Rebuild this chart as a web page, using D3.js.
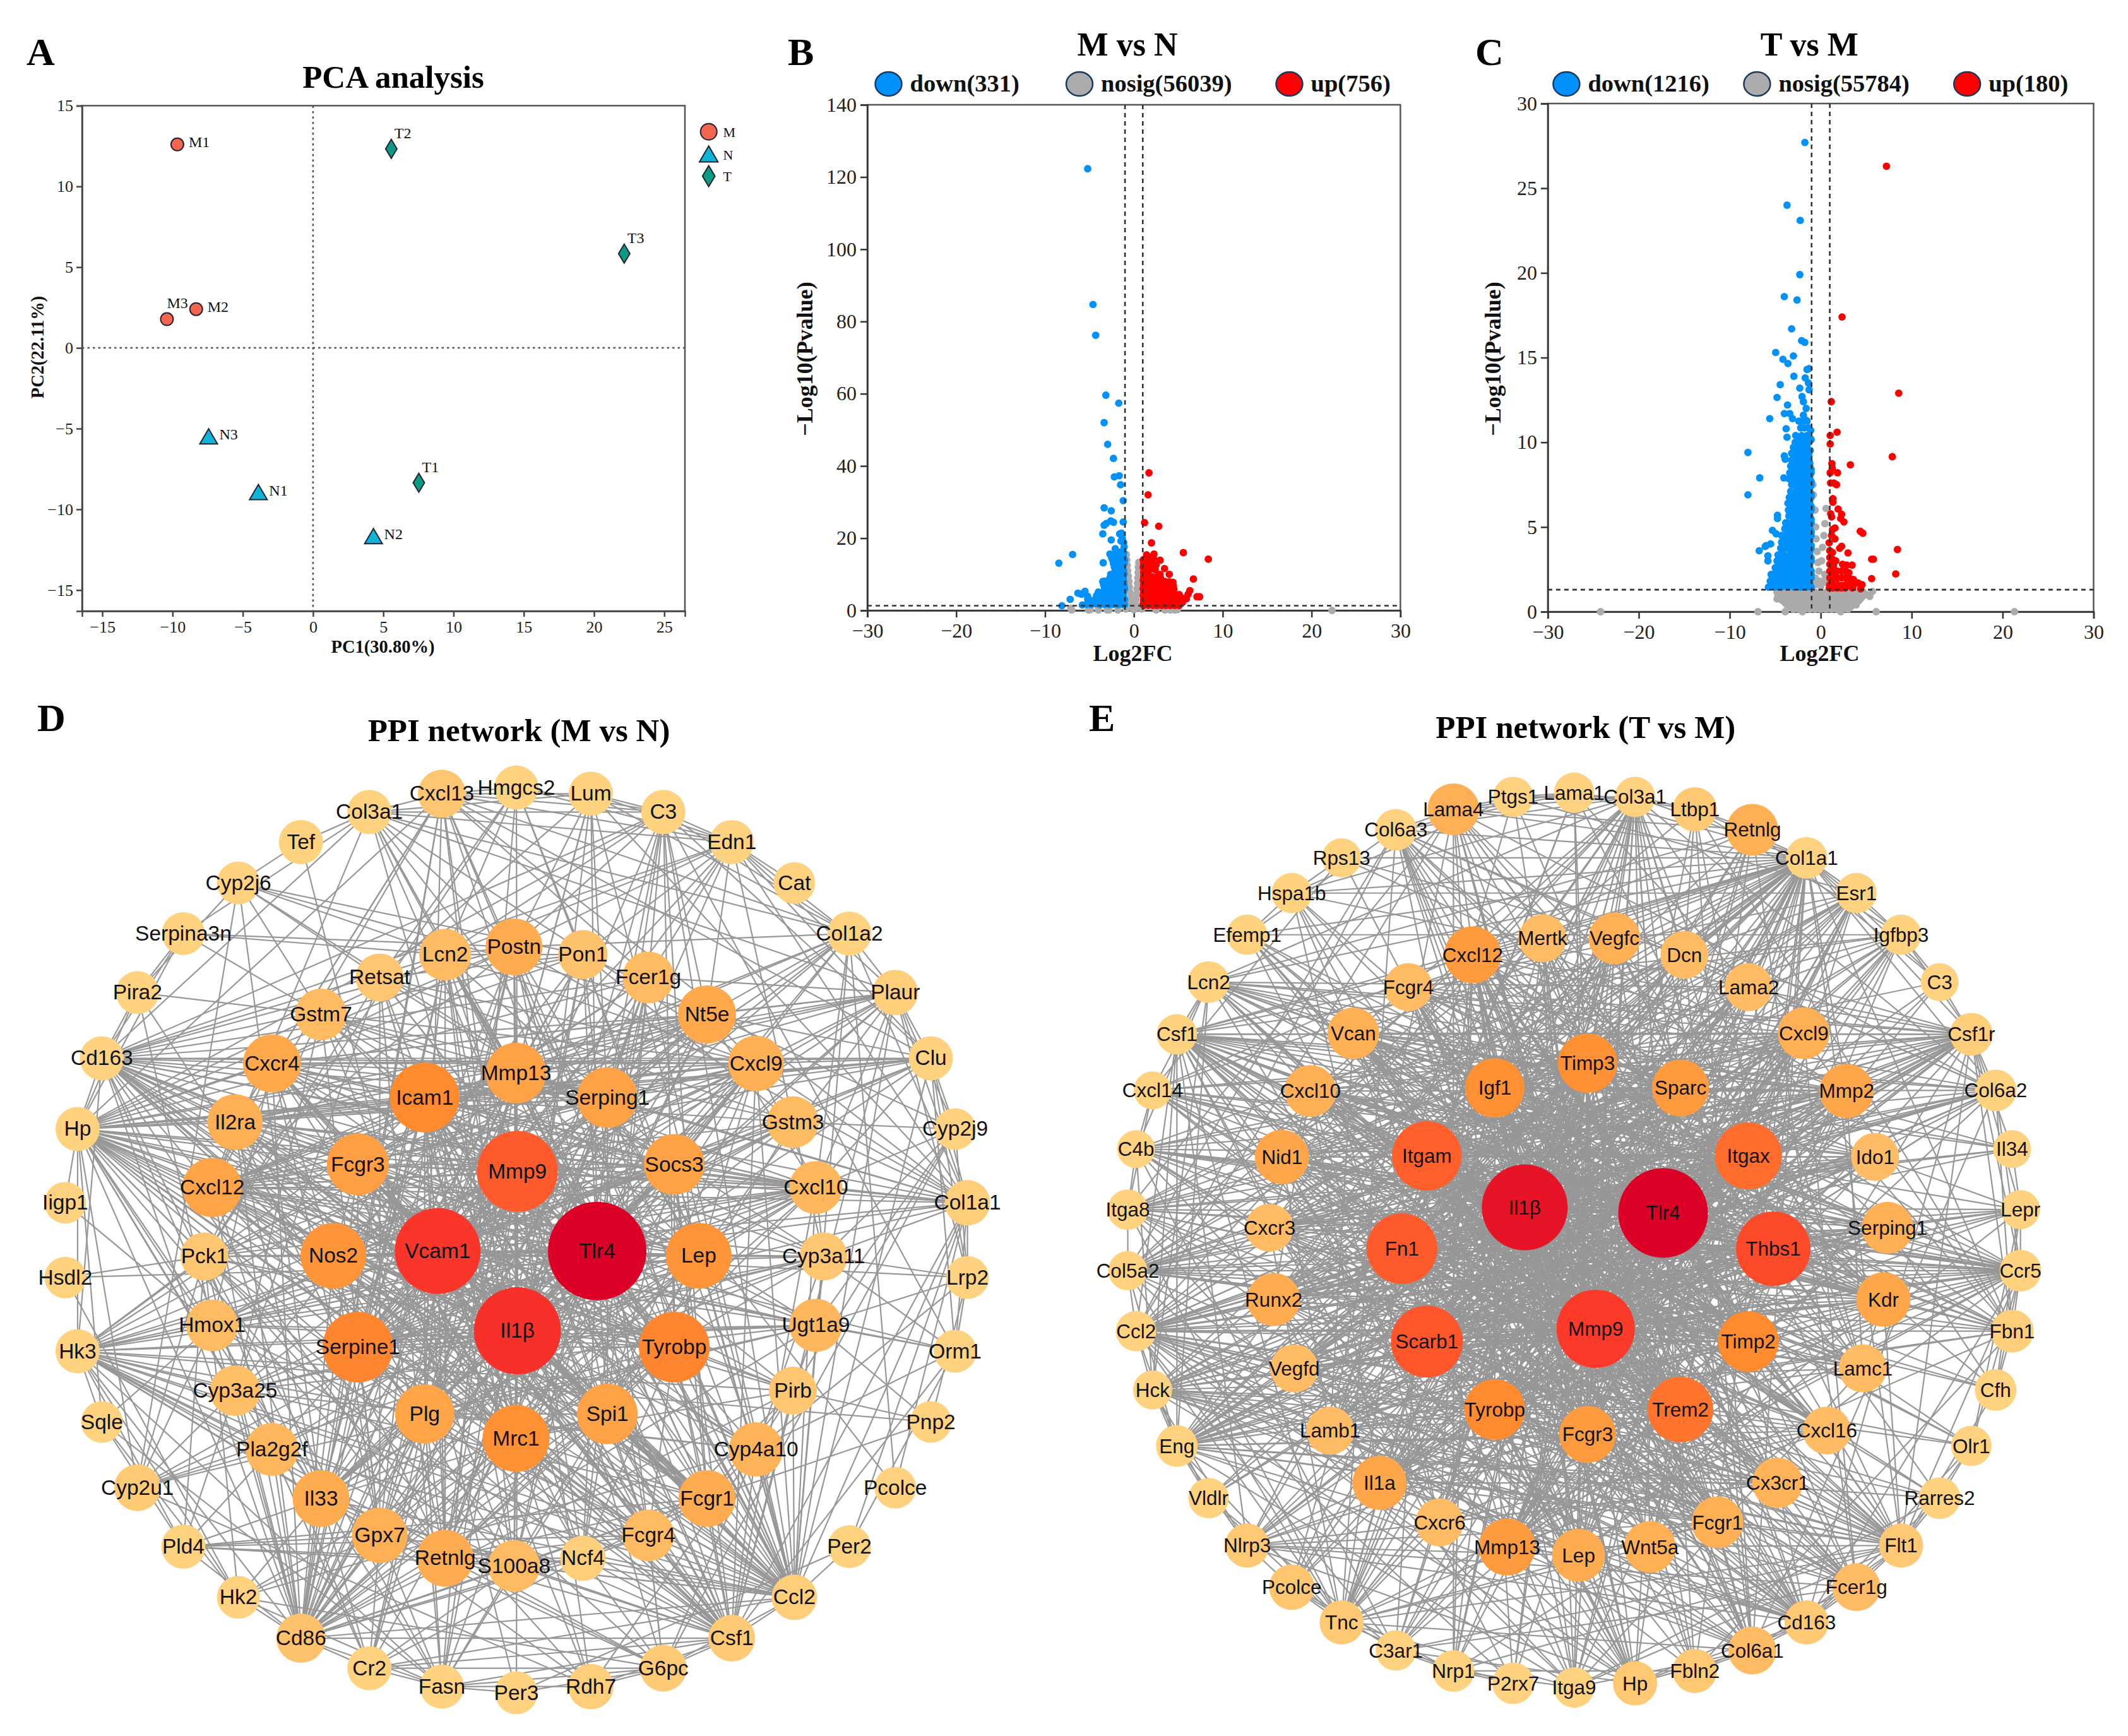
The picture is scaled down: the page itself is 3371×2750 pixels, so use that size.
<!DOCTYPE html>
<html><head><meta charset="utf-8">
<script src="https://cdn.jsdelivr.net/npm/d3@7"></script>
<style>html,body{margin:0;padding:0;background:#fff}svg{display:block}</style>
</head><body><svg id="fig"></svg>
<script>
// ---------- PCA data ----------
const pcaGroups = ["M","N","T"];
const pcaSamples = ["M1","M2","M3","N1","N2","N3","T1","T2","T3"];
const pcaPC1 = [-9.66,-8.32,-10.4,-3.89,4.3,-7.43,7.53,5.57,22.15];
const pcaPC2 = [12.6,2.4,1.78,-8.97,-11.7,-5.52,-8.35,12.33,5.84];
const pcaTicksX = [-15,-10,-5,0,5,10,15,20,25];
const pcaTicksY = [-15,-10,-5,0,5,10,15];

// ---------- Volcano M vs N ----------
const bLegend = ["down(331)","nosig(56039)","up(756)"];
const bTicksY = [0,20,40,60,80,100,120,140];
const fcTicks = [-30,-20,-10,0,10,20,30];
const bDown = [[-5.2,122.3],[-4.6,84.7],[-4.3,76.2],[-3.15,59.6],[-1.7,57.4],[-3.35,52],[-2.95,46],[-2.3,42.1],[-2.2,37],[-1.65,37.3],[-1.5,34.8],[-1.2,30.4],[-3.35,28.4],[-2.55,27.6],[-1.2,24.5],[-2.6,24.8],[-2.3,24.4],[-3.35,23.6],[-3.1,24.1],[-3.5,21.2],[-2.55,19.5],[-1.6,21.2],[-1.4,21.4],[-1.3,20],[-1.15,18.8],[-1.45,19.2],[-1.1,17.6],[-8.45,13.1],[-6.9,15.5],[-3.45,13.2],[-2.7,15.6],[-2.1,17.1],[-2.4,15.4],[-1.9,16],[-1.5,16.2],[-1.15,16],[-2.5,14.6],[-1.7,15],[-1.2,15],[-2.4,14],[-1.8,14],[-1.3,14],[-1.05,14],[-2.3,13],[-1.9,13],[-1.4,13],[-1.1,13],[-2.2,12],[-1.7,12],[-1.25,12],[-2.1,11],[-1.6,11],[-1.15,11],[-2.6,10],[-2.1,10],[-1.6,10],[-1.1,10],[-2.7,9],[-2.2,9],[-1.7,9],[-1.2,9],[-3.5,8],[-3.3,8.1],[-2.6,8],[-2.1,8],[-1.6,8],[-1.15,8],[-3.4,7.1],[-3,6.8],[-2.5,7],[-2,7],[-1.5,7],[-1.1,7],[-3.3,6],[-2.9,6],[-2.4,6],[-1.9,6],[-1.4,6],[-1.05,6],[-4,5.1],[-3.7,4.8],[-3.2,5],[-2.7,5],[-2.2,5],[-1.7,5],[-1.2,5],[-4.2,4.1],[-3.7,4],[-3.2,4],[-2.7,4],[-2.2,4],[-1.7,4],[-1.2,4],[-6.3,4.8],[-5.5,5.3],[-5.9,4.5],[-5.2,3.9],[-7.17,3.07],[-5.2,3.1],[-4.7,2.6],[-4.4,3],[-3.9,3],[-3.4,3],[-2.9,3],[-2.4,3],[-1.9,3],[-1.4,3],[-1.05,3],[-8.1,1.3],[-5.8,1.5],[-5.3,1.7],[-4.8,1.7],[-4.3,1.8],[-3.8,1.6],[-3.3,1.7],[-2.8,1.6],[-2.3,1.7],[-1.8,1.6],[-1.3,1.7],[-1.05,1.6]];
const bUp = [[1.7,38.1],[1.6,32],[1.2,24.3],[2.8,23.3],[1.98,18.7],[5.57,16],[8.38,14.2],[1.43,15.4],[2.26,15.6],[1.05,14],[1.3,13.8],[1.7,14.8],[2.2,14.4],[2.95,13.9],[1.1,13],[1.6,13],[2.1,13],[2.5,12.6],[3.45,11.6],[1.05,12],[1.5,11.7],[1.9,11.5],[2.4,11.3],[1.1,10.6],[1.6,10.5],[2.95,10],[3.98,10],[2.7,9.7],[1.1,9.4],[1.6,9.4],[2.1,9.3],[2.5,9.2],[3,9],[1.05,8.3],[1.5,8.2],[2,8.1],[2.5,8.2],[3,8],[3.5,8],[4,7.9],[4.4,7.8],[6.7,8.7],[1.1,7],[1.6,7],[2.1,7],[2.6,7.1],[3.1,7],[3.6,6.9],[4.1,6.9],[4.45,6.8],[1.05,6],[1.5,6],[2,6.1],[2.5,5.9],[3,6],[3.5,6],[4,5.9],[4.5,5.9],[6.3,5.5],[6.1,4.5],[1.1,5],[1.6,5],[2.1,5],[2.6,5],[3.1,5],[3.6,5],[4.1,5],[4.6,4.5],[5.1,4.4],[1.05,4],[1.5,4],[2,4],[2.5,4],[3,4],[3.5,4],[4,3.9],[4.5,3.9],[5,3.7],[5.5,3.4],[7.1,3.8],[7.4,3.8],[5.9,3.2],[1.1,3],[1.6,3],[2.1,3],[2.6,3],[3.1,3],[3.6,3],[4.1,3],[4.6,3],[5.1,3],[1.05,2],[1.5,2],[2,2],[2.5,2],[3,2],[3.5,2],[4,2],[4.5,2],[5,2],[5.45,2.2],[1.1,1.4],[1.6,1.4],[2.1,1.4],[2.6,1.4],[3.1,1.4],[3.6,1.4],[4.1,1.4],[4.6,1.4],[5.1,1.4]];
const bNosig = [[-.85,15.5],[-.8,14],[-.75,12.5],[-.7,11],[-.62,9.5],[-.55,8],[-.5,6.5],[-.45,5],[-.4,3.5],[-.35,2],[-.3,.8],[.55,13.3],[.5,12],[.47,10.5],[.44,9],[.4,7.5],[.35,6],[.3,4.5],[.25,3],[.2,1.5],[.15,.6],[0,.2],[-.6,1],[.5,1],[-.9,.4],[.9,.4],[-7.1,.6],[-7,.1],[-5.1,.1],[-4.9,.2],[-4,.1],[-3,.1],[-2.8,.1],[-1.8,.1],[2.5,.1],[3.5,.1],[4.1,.1],[4.6,.1],[4.9,.2],[22.3,0]];

// ---------- Volcano T vs M ----------
const cLegend = ["down(1216)","nosig(55784)","up(180)"];
const cTicksY = [0,5,10,15,20,25,30];
const cDownSparse = [[-1.74,27.7],[-3.7,24],[-2.25,23.1],[-2.3,19.9],[-4,18.6],[-2.6,18.4],[-3.2,16.7],[-2.1,16],[-1.75,15.9],[-4.95,15.3],[-4.15,14.9],[-3.6,14.65],[-3,15.1],[-2.95,13.9],[-1.5,14.3],[-1.28,14.35],[-1.7,13.8],[-4.45,13.4],[-2.3,13.2],[-1.35,13.5],[-1.28,13.1],[-4.8,12.65],[-2.05,12.7],[-1.9,12.4],[-3.65,12.2],[-4,11.7],[-1.6,12],[-5.6,11.4],[-3.4,11.7],[-3.1,11.4],[-1.9,11.6],[-1.6,11.3],[-3.8,10.8],[-3.7,10.3],[-8,9.4],[-6.7,7.9],[-8,6.9],[-6.76,3.6],[-6,3.9],[-5.5,4],[-5.8,3.3],[-5.8,3],[-6.1,3.85],[-5.3,4.8],[-4.9,4.6],[-4.75,5.7],[-4.75,5.5],[-4.05,7.9],[-4,9.2],[-3.9,9],[-1.1,10.7],[-1.05,10.15]];
const cDownRows = [
[1.45,[-5.75,-5.05,-4.35,-3.65,-2.95,-2.25,-1.55,-1.05]],
[1.62,[-5.4,-4.7,-4,-3.3,-2.6,-1.9,-1.2]],
[1.8,[-5.55,-4.75,-4.05,-3.3,-2.6,-1.9,-1.2]],
[2,[-5.2,-4.4,-3.65,-2.95,-2.25,-1.55,-1.05]],
[2.2,[-5.45,-5.05,-4.35,-3.65,-2.95,-2.25,-1.55,-1.05]],
[2.4,[-4.9,-4.35,-3.65,-2.95,-2.25,-1.55,-1.05]],
[2.6,[-5,-4.7,-4,-3.3,-2.6,-1.9,-1.2]],
[2.8,[-4.6,-4,-3.3,-2.6,-1.9,-1.2]],
[3,[-4.8,-4.35,-3.65,-2.95,-2.25,-1.55,-1.05]],
[3.18,[-4.4,-3.65,-2.95,-2.25,-1.55,-1.05]],
[3.35,[-4.7,-4,-3.3,-2.6,-1.9,-1.2]],
[3.55,[-4.2,-3.3,-2.6,-1.9,-1.2]],
[3.75,[-4.4,-3.65,-2.95,-2.25,-1.55,-1.05]],
[3.92,[-3.65,-2.95,-2.25,-1.55,-1.05]],
[4.1,[-4.3,-4,-3.3,-2.6,-1.9,-1.2]],
[4.3,[-4,-3.3,-2.6,-1.9,-1.2]],
[4.5,[-4.3,-3.65,-2.95,-2.25,-1.55,-1.05]],
[4.7,[-3.65,-2.95,-2.25,-1.55,-1.05]],
[4.9,[-3.95,-3.3,-2.6,-1.9,-1.2]],
[5.08,[-3.3,-2.6,-1.9,-1.2]],
[5.25,[-3.85,-3.65,-2.95,-2.25,-1.55,-1.05]],
[5.45,[-2.95,-2.25,-1.55,-1.05]],
[5.65,[-3.5,-3.3,-2.6,-1.9,-1.2]],
[5.82,[-3.3,-2.6,-1.9,-1.2]],
[6,[-3.55,-2.95,-2.25,-1.55,-1.05]],
[6.2,[-2.95,-2.25,-1.55,-1.05]],
[6.4,[-3.6,-3.3,-2.6,-1.9,-1.2]],
[6.58,[-3.3,-2.6,-1.9,-1.2]],
[6.75,[-3.45,-2.95,-2.25,-1.55,-1.05]],
[6.92,[-2.95,-2.25,-1.55,-1.05]],
[7.1,[-3.3,-2.6,-1.9,-1.2]],
[7.3,[-2.6,-1.9,-1.2]],
[7.5,[-3.2,-2.95,-2.25,-1.55,-1.05]],
[7.68,[-2.95,-2.25,-1.55,-1.05]],
[7.85,[-3.5,-3.3,-2.6,-1.9,-1.2]],
[8.02,[-2.6,-1.9,-1.2]],
[8.2,[-3.4,-2.95,-2.25,-1.55,-1.05]],
[8.4,[-2.95,-2.25,-1.55,-1.05]],
[8.6,[-3.3,-2.6,-1.9,-1.2]],
[8.78,[-2.6,-1.9,-1.2]],
[8.95,[-3.2,-2.95,-2.25,-1.6]],
[9.15,[-2.6,-1.9,-1.3]],
[9.35,[-3.2,-2.75,-1.95,-1.3]],
[9.52,[-2.4,-1.8,-1.15]],
[9.7,[-3,-2.5,-1.6]],
[9.85,[-2.2,-1.5]],
[10,[-2.8,-2.2,-1.85,-1.3]],
[10.2,[-2.4,-1.6,-1.1]],
[10.4,[-2.75,-2.1,-1.5]],
[10.85,[-2.2,-1.8,-1.3]],
[11.25,[-2.4,-2,-1.5]]
];
const cUp = [[7.23,26.3],[2.35,17.4],[8.58,12.9],[8.44,3.67],[8.25,2.23],[1.16,12.4],[1.8,10.6],[1.04,10.4],[1.04,9.9],[7.87,9.15],[3.26,8.67],[1.23,8.74],[1.27,8.47],[1.85,8.2],[1.04,8.2],[1.09,7.6],[1.74,7.5],[1.45,7.6],[1.34,6.67],[1.34,6.46],[1.92,6.06],[2.3,5.75],[1.1,5.78],[1.2,5.6],[2.55,5.3],[2.2,5.5],[4.35,4.75],[4.63,4.63],[1.57,4.94],[1.3,4.85],[1.2,4.5],[1.57,4.3],[.93,4.07],[2.3,3.86],[2.08,3.74],[3,3.47],[5.6,3.1],[5.8,3.1],[5.6,1.95],[1,3.6],[1.3,3.5],[1,3.2],[1.3,3.1],[1.65,3],[1,2.8],[1.4,2.7],[2.4,2.8],[2.85,2.75],[3.45,2.75],[1,2.4],[1.4,2.3],[1.8,2.4],[2.3,2.4],[2.75,2.4],[3.1,2.3],[1,2],[1.4,1.95],[1.85,2],[2.3,2],[2.75,2],[3.2,1.95],[3.6,1.9],[1,1.6],[1.4,1.55],[1.85,1.6],[2.3,1.55],[2.75,1.6],[3.2,1.55],[3.65,1.6],[4.1,1.7],[4.55,1.6],[.95,1.4],[1.35,1.4],[1.8,1.4],[2.25,1.4],[2.7,1.4],[3.5,1.4],[4.4,1.35]];
const cNosigRows = [
[.15,[-3,-2.4,-1.8,-1.2,-.6,0,.6,1.2,1.8,2.4,3]],
[.28,[-3.3,-2.7,-2.1,-1.5,-.9,-.3,.3,.9,1.5,2.1,2.7,3.3]],
[.4,[-3.7,-3.1,-2.5,-1.9,-1.3,-.7,-.1,.5,1.1,1.7,2.3,2.9,3.5,3.9]],
[.52,[-3.9,-3.3,-2.7,-2.1,-1.5,-.9,-.3,.3,.9,1.5,2.1,2.7,3.3,3.9]],
[.65,[-4.2,-3.6,-3,-2.4,-1.8,-1.2,-.6,0,.6,1.2,1.8,2.4,3,3.6,4.2]],
[.78,[-4.4,-3.8,-3.2,-2.6,-2,-1.4,-.8,-.2,.4,1,1.6,2.2,2.8,3.4,4,4.4]],
[.9,[-4.7,-4.1,-3.5,-2.9,-2.3,-1.7,-1.1,-.5,.1,.7,1.3,1.9,2.5,3.1,3.7,4.3,4.6]],
[1.02,[-4.7,-4.4,-3.8,-3.2,-2.6,-2,-1.4,-.8,-.2,.4,1,1.6,2.2,2.8,3.4,4,4.6]],
[1.15,[-4.8,-4.2,-3.6,-3,-2.4,-1.8,-1.2,-.6,0,.6,1.2,1.8,2.4,3,3.6,4.2,4.7]]
];
const cNosigExtra = [[5.1,1],[5.7,1.2],[5.4,.9],[-4.8,.75],[-24.2,0],[-6.9,0],[-3.9,0],[-2,0],[2.2,0],[6.1,0],[21.3,0],[-.85,7.5],[-.8,6.9],[-.62,6],[-.55,5],[-.5,4.3],[-.4,3.55],[-.3,2.9],[-.2,2.4],[-.1,1.8],[.58,6.1],[.46,5.2],[.35,4.5],[.2,3.8],[.1,3],[.45,2.2],[.3,1.8],[.7,1.7],[-.6,2],[-.6,1.6],[0,1.5]];

// ---------- Network D ----------
const dCore = ["Mmp9","Tlr4","Il1β","Vcam1"];
const dCoreDeg = [73,101,83,81];
const dInner = ["Mmp13","Serping1","Socs3","Lep","Tyrobp","Spi1","Mrc1","Plg","Serpine1","Nos2","Fcgr3","Icam1"];
const dInnerDeg = [41,41,41,49,57,41,51,39,57,49,43,55];
const dMiddle = ["Postn","Pon1","Fcer1g","Nt5e","Cxcl9","Gstm3","Cxcl10","Cyp3a11","Ugt1a9","Pirb","Cyp4a10","Fcgr1","Fcgr4","Ncf4","S100a8","Retnlg","Gpx7","Il33","Pla2g2f","Cyp3a25","Hmox1","Pck1","Cxcl12","Il2ra","Cxcr4","Gstm7","Retsat","Lcn2"];
const dMiddleDeg = [35,23,27,37,33,27,29,21,29,21,31,35,27,17,27,35,33,35,29,25,27,21,39,33,37,27,21,27];
const dOuter = ["Hmgcs2","Lum","C3","Edn1","Cat","Col1a2","Plaur","Clu","Cyp2j9","Col1a1","Lrp2","Orm1","Pnp2","Pcolce","Per2","Ccl2","Csf1","G6pc","Rdh7","Per3","Fasn","Cr2","Cd86","Hk2","Pld4","Cyp2u1","Sqle","Hk3","Hsdl2","Iigp1","Hp","Cd163","Pira2","Serpina3n","Cyp2j6","Tef","Col3a1","Cxcl13"];
const dOuterDeg = [15,15,15,15,11,15,17,15,11,17,13,13,11,11,13,17,19,19,17,13,15,15,23,13,15,19,11,15,11,11,15,15,13,13,13,15,15,21];
const dEdges = [
["Tlr4","Mmp9 Il1β Vcam1 Mmp13 Serping1 Socs3 Lep Tyrobp Spi1 Mrc1 Plg Serpine1 Nos2 Fcgr3 Icam1 Postn Lcn2 Pon1 Nt5e Cxcl9 Cxcl10 Fcgr1 Fcgr4 Ncf4 S100a8 Retnlg Gpx7 Il33 Hmox1 Cxcl12 Il2ra Cxcr4 Cxcl13 Lum C3 Col1a2 Plaur Col1a1 Ccl2 Csf1 Cd86 Cd163 Hp Hk3 Pck1 Pla2g2f Fcer1g Retsat Gstm7 Cyp3a25 Cr2 Fasn"],
["Il1β","Mmp9 Vcam1 Mmp13 Serping1 Socs3 Lep Tyrobp Spi1 Mrc1 Plg Serpine1 Nos2 Fcgr3 Icam1 Postn Pon1 Fcer1g Nt5e Cxcl9 Gstm3 Cxcl10 Fcgr1 Fcgr4 Retnlg Gpx7 Il33 Cyp3a25 Hmox1 Cxcl12 Il2ra Cxcr4 Gstm7 Lcn2 Cxcl13 Hmgcs2 C3 Edn1 Col1a2 Plaur Clu Ccl2 Csf1 Cd163 Hp Cd86 Col3a1 Pla2g2f Pck1 Retsat Hk3 Cyp3a11 Ugt1a9"],
["Mmp9","Vcam1 Mmp13 Serping1 Socs3 Lep Tyrobp Spi1 Mrc1 Plg Serpine1 Nos2 Fcgr3 Icam1 Postn Lcn2 Nt5e Cxcl9 Cxcl10 Cyp4a10 Fcgr1 Retnlg Gpx7 S100a8 Il33 Hmox1 Cxcl12 Il2ra Cxcr4 Fasn Cr2 Cd86 Csf1 Ccl2 Hk3 Hp Cd163 Col1a1 Per3 Rdh7 G6pc Ncf4 Fcgr4 Pla2g2f Cyp3a25 Pirb Ugt1a9"],
["Vcam1","Mmp13 Serping1 Socs3 Lep Tyrobp Spi1 Mrc1 Plg Serpine1 Nos2 Fcgr3 Icam1 Cxcl9 Cxcl10 Cyp3a11 Ugt1a9 Cyp4a10 Fcgr1 Fcgr4 Pirb Postn Nt5e Fcer1g Il33 Cxcl12 Cxcr4 Il2ra Ccl2 Csf1 Plaur Clu Col1a1 Col1a2 Hk3 Cd86 Hp Lrp2 Gstm3 Orm1 Pon1 Ncf4 Retnlg"],
["Tyrobp","Serpine1 Icam1 Fcgr3 Nos2 Plg Mrc1 Spi1 Socs3 Serping1 Fcgr1 Fcgr4 Ncf4 Retnlg Cxcr4 Cxcl9 Il33 Cd86 Ccl2 Csf1 Cxcl12 Il2ra Lcn2 Hp Cd163 Pck1 C3 Hmox1 Gstm7 Retsat Cxcl13"],
["Serpine1","Icam1 Fcgr3 Nos2 Plg Mrc1 Spi1 Lep Socs3 Serping1 Mmp13 Postn Cxcl9 Cxcl10 Nt5e Cyp3a11 Ccl2 Csf1 Col1a1 Col1a2 Plaur Hp Edn1 Il33 Gpx7 Lcn2 Pon1 Fcer1g Gstm3 Ugt1a9 Fcgr4"],
["Icam1","Fcgr3 Nos2 Plg Mrc1 Spi1 Lep Socs3 Serping1 Mmp13 Cxcl9 Cxcl10 Cxcl12 Cxcr4 Il2ra Ccl2 Csf1 Cd163 Hp Hk3 Clu Plaur Col1a1 Fcgr1 Retnlg Cd86 Il33 Nt5e Fcgr4 Ncf4 S100a8 Gstm3"],
["Mrc1","Lep Nos2 Fcgr3 Spi1 Socs3 Mmp13 Postn Fcgr1 Fcgr4 Ccl2 Csf1 Cd163 Cxcl12 Cxcr4 Hp Lcn2 Cd86 Cxcl9 Gpx7 S100a8 Pirb Retsat Cxcl13 Lum"],
["Lep","Nos2 Fcgr3 Plg Spi1 Socs3 Mmp13 Serping1 Cxcl12 Cxcl10 Ccl2 Hk3 Pck1 Fasn Hmgcs2 Cd86 Il33 Hp Plaur Postn Hmox1 Il2ra Cxcr4 Gpx7"],
["Nos2","Fcgr3 Plg Socs3 Mmp13 Serping1 Cxcl9 Cxcl10 Cxcr4 Hmox1 Ccl2 Csf1 Il2ra Cd86 Hp Cd163 Gpx7 Ugt1a9 Cyp3a11 Nt5e Fcgr1 Gstm3 Pirb"],
["Fcgr3","Mmp13 Socs3 Serping1 Spi1 Fcgr1 Fcgr4 Ccl2 Csf1 Cd86 Cd163 Hp Cxcl12 Il2ra Cxcl10 Cxcl9 Retnlg Cyp4a10 Pirb Nt5e Fcer1g S100a8 Ncf4"],
["Mmp13","Postn Lcn2 Serping1 Socs3 Plg Col1a1 Col1a2 Col3a1 Cxcl12 Cxcl9 Il33 Lum Cxcr4 Edn1 Pon1 Ccl2 Cr2 Gpx7 Fcgr1 Retnlg"],
["Serping1","Socs3 Plg Spi1 C3 Fcer1g Col1a1 Col1a2 Lcn2 Cxcl9 Cxcl12 Lum Hp Clu Cd163 Cxcr4 Il2ra Cd86 Gstm7 Retnlg Ccl2"],
["Socs3","Plg Spi1 Cxcl9 Cxcl10 Cxcl12 Il2ra Il33 Ccl2 Fcgr1 Lep Hmox1 Clu Hk3 Csf1 Cxcr4 Cd163 Pck1 Retsat"],
["Spi1","Plg Fcgr1 Fcgr4 Ccl2 Csf1 Cd86 Ncf4 Cxcl9 Cxcr4 Cd163 Il33 Postn Fcer1g Hp Cxcl12 Ccl2 Csf1 Retnlg Il2ra"],
["Plg","Fcgr4 Il33 Retnlg Gpx7 Cr2 Cd86 Cxcl12 Cxcl13 Cyp4a10 Ugt1a9 Hk3 Pck1 Cyp3a11 Csf1 Lum Fasn"],
["Cxcl12","Cxcl9 Cxcl10 Cxcr4 Il2ra Icam1 Cxcl13 Ccl2 Csf1 Cd86 Nt5e Postn Col1a1 Clu Plaur Il33 Hp Cd163 Col3a1 Fcgr1 Cyp4a10 Ugt1a9 Cyp3a11 Gstm3 Col1a2"],
["Cxcl10","Cxcl9 Cxcr4 Il2ra Ccl2 Csf1 Cd86 Hk3 Retnlg Il33 Hmox1 Pck1 Nt5e Cyp3a11 Cyp2j9 Col1a1 Col1a2 Hp Cd163 Cyp2u1 Clu Plaur"],
["Cxcl9","Cxcr4 Il2ra Ccl2 Csf1 Cd86 Cd163 Nt5e Retsat Gstm7 Il33 Hp Clu Plaur Lcn2 Hmox1 Pck1"],
["Cxcr4","Nt5e Il2ra Ccl2 Postn Csf1 Cd163 Hp Cxcl13 Hmox1 Gpx7 Cd86 Clu Plaur Cyp3a11"],
["Nt5e","Plaur Clu Col1a2 Edn1 Cd163 Hk3 Il2ra Retnlg Pck1 Cyp2j6 Hp Il33 C3"],
["Il2ra","Hp Cd163 Ccl2 Csf1 Cd86 Retnlg Il33 Fcgr1 Clu Col1a1 Plaur Cxcl13"],
["Il33","Cd86 Cr2 Ccl2 Csf1 Retnlg S100a8 Hp Hk3 Gpx7 Pld4 Hmox1 Cyp2j6 Cd163 Fasn Hk2 Cxcl13"],
["Fcgr1","Fcgr4 Ccl2 Csf1 Cd86 Cyp4a10 Cd163 Hp Ncf4 Retnlg S100a8 Pnp2 C3 Pirb Pld4 Hk3"],
["Fcgr4","Ccl2 Csf1 Cd86 Cd163 Ncf4 Retnlg G6pc Hp Pirb Hk3 Pld4"],
["Postn","Lum Col1a1 Col1a2 Col3a1 Edn1 Lcn2 Hp Gpx7 Cd163 Serpina3n C3 Ccl2 Cd86"],
["Lcn2","Hp Cd163 Retnlg S100a8 Ccl2 C3 Pon1 Serpina3n Hmgcs2 Gpx7 Cyp2j6 Edn1 Cd86"],
["Pon1","Hmgcs2 Hp Cyp2j9 Cyp4a10 Fasn G6pc Cyp2j6 Retsat Cd163 Gstm3 Edn1 Cyp3a25"],
["Fcer1g","Cd163 C3 Edn1 Ccl2 Cd86 Retnlg Hk3 Cxcl13 S100a8 Ncf4 Hp Plaur"],
["Gstm3","Gstm7 Hmox1 Cyp3a25 Fasn Cyp2u1 Cyp2j9 Retsat Clu Edn1 Cyp3a11 Col1a1"],
["Gstm7","Gpx7 Cyp3a11 Cyp2j6 Cyp3a25 Pira2 Serpina3n Pck1 Ugt1a9 Rdh7 Cxcl10"],
["Retsat","Hmgcs2 Cyp2j6 Rdh7 Fasn Gpx7 Pck1 Cyp3a25 Lum"],
["Retnlg","S100a8 Ccl2 Cd86 Ncf4 Csf1 Cd163 Hp Pld4 G6pc Hk3"],
["S100a8","Ccl2 Csf1 Cd86 Ncf4 Cr2 Hp Hk3 Pira2 Pld4"],
["Gpx7","Fasn Cd86 G6pc Cr2 Rdh7 Hk2 Pld4 Hk3 Cyp3a25 Ccl2"],
["Ncf4","Cd86 Ccl2 Csf1 Hp G6pc Cr2"],
["Hmox1","Hk3 Hp Ccl2 Sqle Cyp2u1 Pira2 Iigp1 Cd86 Csf1"],
["Pck1","G6pc Hk2 Hk3 Cyp2u1 Hp Fasn Hsdl2 Rdh7 Pld4 Hmgcs2 Cd86 Cr2"],
["Pla2g2f","Cyp2u1 Pld4 Hk3 Ccl2 Hp Cd163 Cr2 Cd86"],
["Cyp3a25","Cyp2u1 Pld4 Ugt1a9 Cyp3a11 Cyp4a10 Hk3 Hp Cd86"],
["Ugt1a9","Cyp3a11 Cyp2j9 Orm1 Pirb Cyp2u1 Pnp2 Lrp2 Hk3 Cd86 Cd163"],
["Cyp3a11","Cyp2j9 Orm1 Lrp2 Cyp4a10 Cyp2u1 Cyp2j6 Hk2 Hsdl2 Col1a1 Ccl2"],
["Cyp4a10","Hk2 Cyp2j9 G6pc Orm1 Lrp2 Rdh7 Ccl2 Csf1 Cd163"],
["Pirb","Ccl2 Csf1 Hk3 Cd86 Pnp2 Hp"],
["Ccl2","Csf1 Per2 G6pc Cd86 Hp Cd163 Hk3 Col1a1 Col1a2 Plaur Clu Cr2 Lum C3 Col3a1 Cxcl13"],
["Csf1","Cd86 Hk3 Hp Cd163 G6pc Rdh7 Col1a1 Cr2 Fasn Plaur Orm1 Col3a1"],
["Cd86","Cd163 Cr2 Hp Hk2 Pld4 Hk3 Fasn C3 Cxcl13"],
["Cd163","Hp Hk3 Serpina3n Pira2 Col3a1 C3 Clu Edn1"],
["Hp","Hk3 Pira2 Serpina3n Orm1 Sqle Cyp2u1 Clu Plaur C3"],
["Hk3","Pld4 Sqle Hk2 G6pc Fasn Pnp2"],
["Col1a1","Col1a2 Col3a1 Lum Cxcl13 Edn1 Plaur Clu Lrp2 Orm1 Pcolce Per2"],
["Col1a2","Col3a1 Lum Edn1 C3 Plaur Pcolce Cxcl13"],
["Col3a1","Cxcl13 Lum Edn1 C3 Serpina3n Tef Pcolce"],
["C3","Edn1 Lum Cxcl13 Hmgcs2 Clu Orm1"],
["Edn1","Hmgcs2 Cat Plaur Clu Lum Cxcl13"],
["Plaur","Clu Col3a1 Cyp2j9 Lrp2"],
["Clu","Lrp2 Cyp2j9 Orm1 Cxcl13"],
["Cxcl13","Hmgcs2 Lum Hp"],
["Fasn","G6pc Hk2 Cr2 Rdh7 Per3 Sqle Hmgcs2"],
["G6pc","Rdh7 Hk2 Per3 Cr2 Cyp2j9"],
["Lrp2","Orm1 Pnp2 Cyp2j9"],
["Sqle","Hk2 Pld4"],
["Cyp2u1","Cyp2j6 Rdh7"],
["Per2","Per3 Orm1"],
["Iigp1","Hp"],
["Hsdl2","Hk2"],
["Tef","Per3 Cyp2j6"],
["Pira2","Serpina3n Cyp2j6"]
];

// ---------- Network E ----------
const eCore = ["Il1β","Tlr4","Mmp9"];
const eCoreDeg = [81,87,69];
const eCoreAngles = [301.8,62.8,177.6];
const eInner = ["Timp3","Sparc","Itgax","Thbs1","Timp2","Trem2","Fcgr3","Tyrobp","Scarb1","Fn1","Itgam","Igf1"];
const eInnerDeg = [39,35,51,63,41,49,35,41,59,57,55,39];
const eMiddle = ["Mertk","Vegfc","Dcn","Lama2","Cxcl9","Mmp2","Ido1","Serping1","Kdr","Lamc1","Cxcl16","Cx3cr1","Fcgr1","Wnt5a","Lep","Mmp13","Cxcr6","Il1a","Lamb1","Vegfd","Runx2","Cxcr3","Nid1","Cxcl10","Vcan","Fcgr4","Cxcl12"];
const eMiddleDeg = [21,27,21,21,27,31,21,27,31,21,21,25,27,27,29,35,21,31,21,21,29,21,31,27,27,21,35];
const eOuter = ["Lama1","Col3a1","Ltbp1","Retnlg","Col1a1","Esr1","Igfbp3","C3","Csf1r","Col6a2","Il34","Lepr","Ccr5","Fbn1","Cfh","Olr1","Rarres2","Flt1","Fcer1g","Cd163","Col6a1","Fbln2","Hp","Itga9","P2rx7","Nrp1","C3ar1","Tnc","Pcolce","Nlrp3","Vldlr","Eng","Hck","Ccl2","Col5a2","Itga8","C4b","Cxcl14","Csf1","Lcn2","Efemp1","Hspa1b","Rps13","Col6a3","Lama4","Ptgs1"];
const eOuterDeg = [9,9,15,27,11,9,9,5,13,11,5,7,11,13,11,9,11,15,21,15,21,15,15,9,11,11,9,15,17,15,9,11,7,9,7,9,5,5,9,11,9,9,7,11,27,9];
const eEdges = [
["Tlr4","Il1β Mmp9 Fn1 Itgam Itgax Thbs1 Scarb1 Timp2 Trem2 Fcgr3 Tyrobp Igf1 Timp3 Sparc Mertk Vegfc Dcn Cxcl9 Mmp2 Ido1 Kdr Cxcl16 Cx3cr1 Fcgr1 Lep Mmp13 Cxcr6 Il1a Runx2 Cxcr3 Nid1 Cxcl10 Fcgr4 Cxcl12 Csf1 Ccl2 Eng Hck Lcn2 C4b Cxcl14 Col1a1 Ccr5 Csf1r Flt1 Fcer1g Cd163 Hp Nlrp3 Tnc C3ar1 P2rx7 Esr1 Hspa1b Col3a1 Itga8 Col5a2"],
["Il1β","Mmp9 Fn1 Itgam Itgax Thbs1 Scarb1 Timp2 Trem2 Fcgr3 Tyrobp Igf1 Timp3 Sparc Vegfc Dcn Lama2 Cxcl9 Mmp2 Ido1 Serping1 Kdr Lamc1 Cxcl16 Cx3cr1 Fcgr1 Wnt5a Lep Mmp13 Il1a Lamb1 Vegfd Runx2 Nid1 Cxcl10 Vcan Cxcl12 Csf1r Ccr5 Fbn1 Col6a2 Il34 Lepr Flt1 Cd163 Col6a1 Hp Tnc Eng Ccl2 Csf1 Col1a1 Col3a1 Olr1 Cfh Fcer1g"],
["Mmp9","Fn1 Itgam Itgax Thbs1 Scarb1 Timp2 Trem2 Fcgr3 Tyrobp Igf1 Timp3 Sparc Mertk Vegfc Dcn Lama2 Cxcl9 Mmp2 Ido1 Serping1 Kdr Lamc1 Fcgr1 Lep Mmp13 Il1a Lamb1 Vegfd Runx2 Cxcr3 Nid1 Cxcl10 Vcan Fcgr4 Cxcl12 Lama1 Ltbp1 Retnlg Lama4 Col6a3 Col1a1 Col3a1 Ptgs1 Csf1r Ccl2 Csf1 Igfbp3 Efemp1 Esr1 Hspa1b Lcn2 Cxcl14 Col5a2"],
["Thbs1","Fn1 Itgam Itgax Scarb1 Timp2 Trem2 Tyrobp Igf1 Timp3 Sparc Vegfc Mmp2 Kdr Lamb1 Vegfd Nid1 Vcan Col1a1 Col3a1 Ccl2 Csf1 Eng Col5a2 Itga8 Efemp1 Fbn1 Lama4 Ltbp1 Itga9 Mmp13 Cxcl12 Lamc1 Il1a Cxcr3 Runx2 C4b Hck Cxcl14 Lcn2"],
["Scarb1","Fn1 Itgam Itgax Timp2 Trem2 Fcgr3 Tyrobp Igf1 Timp3 Sparc Cxcl9 Mmp2 Ido1 Kdr Cd163 Cx3cr1 Csf1r Ccr5 Flt1 Lep Esr1 Col6a2 Lepr Olr1 Vegfc Serping1 Fcer1g Dcn Lama2 Rarres2 Cxcl12 Retnlg Igfbp3 C3"],
["Fn1","Itgam Itgax Timp2 Trem2 Fcgr3 Timp3 Sparc Mmp2 Kdr Lamc1 Cxcl16 Cx3cr1 Serping1 Ido1 Flt1 Ccr5 Fbn1 Col6a1 Col6a2 Col1a1 Col3a1 Hp Tnc Itga9 Dcn Lama2 Lama1 Cfh Fcgr1 Igfbp3 Lepr Wnt5a Cxcl9"],
["Itgam","Itgax Timp2 Trem2 Fcgr3 Tyrobp Sparc Cxcl9 Ido1 Kdr Cxcl16 Cx3cr1 Fcgr1 Flt1 Fcer1g Cd163 Ccr5 Csf1r Hp Wnt5a Lep Serping1 Lamc1 Fbln2 Olr1 Mmp2 C3ar1 Csf1 Ccl2 Col6a1 Col1a1"],
["Itgax","Trem2 Fcgr3 Tyrobp Igf1 Vcan Cxcl10 Nid1 Cxcr3 Runx2 Il1a Lamb1 Vegfd Cxcr6 Mmp13 Ccl2 Csf1 Eng Hck Cxcl14 C4b Fcgr4 Cxcl12 Nlrp3 Tnc Itga8 Pcolce Lcn2 Vldlr Col5a2"],
["Trem2","Timp2 Tyrobp Fcgr3 Igf1 Timp3 Cxcl12 Il1a Lamb1 Nid1 Cxcr3 Fcgr4 Csf1 Ccl2 Cxcl10 Vcan Mertk Hck Nlrp3 Col6a3 Lama4 Lcn2 Cxcl14 Itga8 Runx2 Efemp1"],
["Timp2","Tyrobp Igf1 Timp3 Sparc Nid1 Runx2 Vcan Cxcl12 Lamb1 Mmp13 Col1a1 Ccl2 Eng Col5a2 Col6a3 Mmp2 Efemp1 Lama4 Hspa1b Itga8 Cxcr3 Csf1 C4b Cxcl10"],
["Tyrobp","Fcgr3 Igf1 Timp3 Sparc Mmp2 Cxcl9 Fcgr1 Csf1r Ccr5 Cx3cr1 Hp Kdr Ido1 Retnlg Igfbp3 Serping1 Lepr Col6a2 C3 Col1a1 Lama2"],
["Fcgr3","Igf1 Timp3 Fcgr1 Fcgr4 Cxcl10 Cxcl12 Retnlg Col6a3 Csf1 Ccl2 Mertk Vegfc Lama1 Hspa1b Eng Cxcl9 Hck Esr1"],
["Igf1","Timp3 Sparc Mmp2 Kdr Cxcl16 Serping1 Lep Cxcl12 Esr1 Col1a1 Igfbp3 Lamc1 Flt1 Col6a1 Ccr5 Fbn1 Hp Cx3cr1 Cd163 Csf1r Wnt5a Fcgr1 Tnc"],
["Timp3","Sparc Mmp2 Mmp13 Nid1 Kdr Lamb1 Vegfd Il1a Runx2 Tnc Itga9 Col6a1 Fbln2 P2rx7 Nrp1 C3ar1 Cxcr6 Lep Col5a2 Eng"],
["Sparc","Mmp2 Mmp13 Nid1 Lamb1 Runx2 Vegfd Col5a2 Col1a1 Vcan Fcgr4 Cxcr3 Eng Itga8 Lcn2 Col6a3 Hck Il1a Ccl2 Csf1 Nlrp3 Cxcr6"],
["Mmp13","Mmp2 Nid1 Lep Fcgr1 Kdr Cxcl9 Vcan Col6a1 Col3a1 Cxcl16 Ido1 Flt1 Ccr5 Col1a1 Igfbp3 Col6a2 Esr1 Serping1"],
["Cxcl12","Mmp2 Cxcl9 Cxcl10 Cxcr3 Cxcr6 Kdr Flt1 Cx3cr1 Col1a1 Ccr5 Vegfc Csf1r Fbn1 Hp Cfh Cxcl16 Fcgr1 Lep Cd163 Col6a1 Nrp1"],
["Mmp2","Nid1 Vcan Lamc1 Lamb1 Runx2 Col1a1 Col6a3 Il1a Lcn2 Ccl2 Eng Hck C4b Lep Cxcr3 Csf1 Itga8 Rps13 Cxcl10 Col5a2 Vegfd"],
["Il1a","Kdr Lep Cxcl9 Cxcl10 Runx2 Flt1 Ccr5 Cd163 Ido1 Col1a1 Csf1r Serping1 Nlrp3 Esr1 Cx3cr1 Cxcl16 Col6a2"],
["Kdr","Flt1 Lamc1 Vegfc Vegfd Nid1 Lep Cxcr3 Csf1 Ccl2 Eng Col5a2 Hck Col6a3 Lcn2 Cxcl14 Lama4 Fcgr4 Cxcl10"],
["Nid1","Lamc1 Lamb1 Lama2 Col1a1 Col3a1 Col6a1 Fbn1 Fbln2 Cxcl9 Ccr5 Csf1r Fcer1g Ido1 Itga9 Col6a2 Cd163 Flt1"],
["Runx2","Cxcl10 Serping1 Col1a1 Esr1 Cxcr6 Cd163 Vegfc Ido1 Csf1r Ccr5 Flt1 Igfbp3 Lepr Fcer1g Col6a2 Col3a1"],
["Lep","Cxcl10 Fcgr1 Csf1 Ccl2 Lepr Esr1 Cxcl9 Nlrp3 Vcan Cd163 Hck Col1a1 Cxcr3 Igfbp3 Fcgr4"],
["Cxcl9","Cxcl10 Cxcr3 Cxcr6 Csf1 Ccl2 Hck Eng Lcn2 Cxcl14 Col5a2 C4b Nlrp3 Fcer1g Tnc Itga8 Vcan Vegfd"],
["Cxcl10","Cxcr3 Cxcr6 Ccr5 Csf1r Ido1 Fcgr1 Cx3cr1 Col1a1 Cd163 Rarres2 Cxcl16 Flt1 Igfbp3 Col6a2 Fbn1 Lepr"],
["Fcgr1","Fcgr4 Csf1 Ccl2 Hck Vcan Eng Nlrp3 C4b Cxcl14 Lcn2 Itga8 Tnc Col5a2 Efemp1"],
["Vcan","Lamb1 Col1a1 Lamc1 Ccr5 Csf1r Col6a2 Fbn1 Flt1 Cd163 Col3a1 Col6a1 Il34 Fcer1g Olr1"],
["Vegfc","Vegfd Flt1 Lamb1 Col3a1 Cxcr3 Eng Tnc P2rx7 Nrp1 C3ar1 Cxcr6 Ccl2 Nlrp3"],
["Serping1","Fcgr4 Ccl2 Csf1 C3ar1 C4b Cfh Col5a2 Hck Eng Vegfd Lama4 Cxcl14 Lcn2"],
["Cx3cr1","Ccl2 Csf1 Hck Cxcr6 Cxcr3 Nlrp3 Lcn2 Col6a3 Fcgr4 Cxcl14 Eng"],
["Wnt5a","Col1a1 Esr1 Tnc Ccr5 Col3a1 Lamb1 Igfbp3 Vegfd Nrp1 Csf1r Lama4"],
["Ido1","Cxcr3 Ccl2 Csf1 Cxcl14 Eng Lcn2 Hck Fcgr4 Vegfd Itga8"],
["Lamc1","Lamb1 Lama2 Lama1 Lama4 Itga8 Itga9 Col5a2 Col6a3 Col3a1 Cxcl14 Hck"],
["Cxcl16","Cxcr3 Cxcr6 Ccl2 Lcn2 Csf1 Fcgr4 Hck Eng C4b Efemp1"],
["Dcn","Col1a1 Col3a1 Col6a1 Col5a2 Fbn1 Ltbp1 Tnc Eng Vegfd Col6a2 Itga8"],
["Mertk","Col6a1 Hp Nrp1 Tnc Flt1 Cd163 Col1a1 Rarres2 Csf1 Itga9"],
["Lama2","Lamb1 Lama1 Col6a3 Itga9 Itga8 Eng Vegfd Col5a2 Lcn2"],
["Fcgr4","Csf1r Ccr5 Col6a2 Fcer1g Cd163 Hp Col1a1 Igfbp3 Lepr Il34"],
["Cxcr3","Ccr5 Csf1r Cd163 Fcer1g Flt1 Tnc Col1a1 Col6a2 Il34 Esr1"],
["Cxcr6","Ccl2 Ccr5 Cd163 Hspa1b Col3a1 Col1a1 Csf1 Eng Tnc"],
["Lamb1","Lama1 Lama4 Itga8 Itga9 Col3a1 Fbn1 Flt1 Col6a1 Col6a2 Csf1r"],
["Vegfd","Flt1 Esr1 Col1a1 Fbln2 Hp Cd163 Ccr5 Csf1r"],
["Ccl2","Csf1 Eng Hck Col5a2 Csf1r Ccr5 Flt1 Cd163 Hp Col1a1 C3ar1 Tnc Col6a1 Fbn1 Col3a1 Lama4 Esr1 Col6a2 Rarres2 Olr1 Il34 Fcer1g P2rx7 Lepr Col6a3"],
["Csf1","Csf1r Eng Hck Ccr5 Flt1 Cd163 Col1a1 Fcer1g Col6a2 Lcn2 Hp Esr1 Il34 Nlrp3 P2rx7 Rarres2 Igfbp3 Olr1 Fbn1 Tnc"],
["Col1a1","Col3a1 Col6a1 Col6a3 Col5a2 Col6a2 Eng Esr1 Igfbp3 Itga8 Itga9 Fbn1 Ltbp1 Tnc Hspa1b Rps13 C3 Csf1r Lama1 Lama4 Flt1 Nrp1 Fbln2 Pcolce Efemp1 C3ar1 Hck Cxcl14 Lcn2"],
["Col3a1","Col6a1 Col6a3 Col5a2 Col6a2 Tnc Hspa1b Lama4 Fbln2 Pcolce Itga9 Nrp1 Ptgs1 Fbn1 Lcn2 Eng Nlrp3 Cd163"],
["Csf1r","Ccr5 Fbn1 Flt1 Cd163 Hck Eng Il34 Col6a2 Cxcl14 C3 Lepr Nlrp3 C3ar1 Rps13 Col5a2 Igfbp3 Hspa1b Lcn2 Vldlr"],
["Ccr5","Cd163 Fbn1 Flt1 Olr1 Cfh Hck Col6a2 Lepr Col5a2 Tnc Eng Nlrp3 Itga8 C4b Lcn2"],
["Eng","Flt1 Nlrp3 Tnc Col6a1 Col5a2 Hck Itga9 Vldlr Fbn1 Lcn2 Lepr Col6a2 Rarres2"],
["Flt1","Cd163 Col6a1 Rarres2 Fcer1g Hck Itga9 Nrp1 Itga8 Cfh Olr1 C3ar1 Tnc"],
["Cd163","Fcer1g Hp Col6a1 Hck Rarres2 Olr1 Nlrp3 C4b Fbln2 Cxcl14"],
["Col6a1","Col6a3 Col6a2 Col5a2 Fbln2 Itga8 Itga9 Ltbp1 Tnc Hp Rps13"],
["Fcer1g","Hck Hp Retnlg C4b C3ar1 Nlrp3 Ptgs1 Lcn2"],
["Hp","C4b Retnlg Nlrp3 Hck C3ar1 Hspa1b Lcn2 Efemp1"],
["Col5a2","Col6a3 Col6a2 Fbn1 Tnc Itga8 Itga9 Ltbp1"],
["Col6a3","Col6a2 Lama1 Lama4 Tnc Itga9 Fbln2 Efemp1"],
["Lama4","Lama1 Ptgs1 Itga9 Itga8 Fbln2 Retnlg Nrp1 P2rx7 Col6a2"],
["Tnc","Fbn1 Itga8 Itga9 Nrp1 Pcolce Vldlr"],
["Fbn1","Ltbp1 Fbln2 Efemp1 Col6a2 Cfh"],
["Hck","Lcn2 Nlrp3 C4b Vldlr Retnlg"],
["Retnlg","Lcn2 Ltbp1 C3 Pcolce Cxcl14"],
["Esr1","Igfbp3 Hspa1b Ptgs1 Vldlr Nrp1 C4b"],
["Igfbp3","Ltbp1 C3 Efemp1 Pcolce Vldlr"],
["Cxcl14","C4b Rps13 Itga8 Lcn2"],
["C4b","C3 Cfh C3ar1 Itga8 Lcn2"],
["C3ar1","C3 Nrp1 P2rx7 Vldlr Pcolce"],
["Nrp1","P2rx7 Itga9 Fbln2 Pcolce"],
["Pcolce","Nlrp3 Tnc Ptgs1"],
["Lepr","Il34 Olr1 Cfh"],
["Ltbp1","Lama1 Col3a1"],
["Ptgs1","Lama1 Hspa1b"],
["Rarres2","Olr1 Itga9"],
["Hspa1b","Efemp1 Rps13"]
];

// ---------- drawing ----------
const SERIF = "'Liberation Serif','Times New Roman',serif";
const SANS = "'Liberation Sans',Arial,sans-serif";
const svg = d3.select("#fig").attr("width",3371).attr("height",2750).attr("viewBox","0 0 3371 2750");
svg.append("rect").attr("width",3371).attr("height",2750).attr("fill","#fff");

function txt(g,x,y,s,size,opt={}){
  const t=g.append("text").attr("x",x).attr("y",y).text(s)
    .attr("font-family",opt.family||SERIF).attr("font-size",size)
    .attr("font-weight",opt.weight||"normal").attr("fill",opt.fill||"#111")
    .attr("text-anchor",opt.anchor||"start");
  if(opt.rotate!=null) t.attr("transform",`rotate(${opt.rotate},${x},${y})`);
  return t;
}
function styleAxis(g,size,stroke){
  g.selectAll("text").attr("font-family",SERIF).attr("font-size",size).attr("fill","#222");
  g.selectAll("line").attr("stroke",stroke).attr("stroke-width",2.5);
  g.select(".domain").attr("stroke",stroke).attr("stroke-width",2.5);
}

// panel letters
[["A",42,103],["B",1248,103],["C",2337,103],["D",59,1158],["E",1725,1158]].forEach(l=>
  txt(svg,l[1],l[2],l[0],62,{weight:"bold",fill:"#000"}));

// ---------- A: PCA ----------
(function(){
  const g=svg.append("g");
  const L=130,R=1085,T=167.4,B=968;
  const x=d3.scaleLinear().domain([-16.44,26.47]).range([L,R]);
  const y=d3.scaleLinear().domain([-16.3,15]).range([B,T]);
  txt(g,623,139,"PCA analysis",51,{weight:"bold",anchor:"middle",fill:"#000"});
  g.append("rect").attr("x",L).attr("y",T).attr("width",R-L).attr("height",B-T).attr("fill","none").attr("stroke","#555").attr("stroke-width",2.5);
  const ax=g.append("g").attr("transform",`translate(0,${B})`).call(d3.axisBottom(x).tickValues(pcaTicksX).tickSize(9).tickPadding(7).tickFormat(d3.format("d")));
  const ay=g.append("g").attr("transform",`translate(${L},0)`).call(d3.axisLeft(y).tickValues(pcaTicksY).tickSize(9).tickPadding(5).tickFormat(d3.format("d")));
  styleAxis(ax,26,"#444");styleAxis(ay,26,"#444");
  [[x(0),x(0),T,B],[L,R,y(0),y(0)]].forEach(c=>g.append("line").attr("x1",c[0]).attr("x2",c[1]).attr("y1",c[2]).attr("y2",c[3]).attr("stroke","#555").attr("stroke-width",2.5).attr("stroke-dasharray","3.5,5"));
  txt(g,606.5,1034,"PC1(30.80%)",28.5,{weight:"bold",anchor:"middle"});
  txt(g,69,550,"PC2(22.11%)",28.5,{weight:"bold",anchor:"middle",rotate:-90});
  const fills={M:"#F4654F",N:"#0FB5D8",T:"#0B9B84"};
  const shape=(sel,grp,k)=>{
    sel.append("path").attr("d",
      grp==="M"? d3.symbol(d3.symbolCircle,Math.PI*100*k*k)():
      grp==="N"? `M0,${-13*k}L${14*k},${11*k}L${-14*k},${11*k}Z`:
                 `M0,${-15*k}L${9*k},0L0,${15*k}L${-9*k},0Z`)
      .attr("fill",fills[grp]).attr("stroke","#223").attr("stroke-width",2);
  };
  pcaSamples.forEach((s,i)=>{
    const px=x(pcaPC1[i]),py=y(pcaPC2[i]),grp=s[0];
    shape(g.append("g").attr("transform",`translate(${px},${py})`),grp,1);
    const above=grp==="T"||s==="M3";
    txt(g,above?px+(grp==="T"?5:0):px+(grp==="M"?18:17),above?py-(grp==="T"?17:18):py+4,s,24);
  });
  pcaGroups.forEach((s,i)=>{
    const yy=[208.7,245,279][i];
    shape(g.append("g").attr("transform",`translate(1122.7,${yy})`),s,i===0?1.3:i===1?1.05:1.1);
    txt(g,1145.6,yy+8,s,22);
  });
})();

// ---------- B, C: volcano ----------
function volcano(o){
  const g=svg.append("g");
  const x=d3.scaleLinear().domain([-30,30]).range([o.left,o.right]);
  const y=d3.scaleLinear().domain([0,o.yMax]).range([o.bottom,o.top]);
  txt(g,o.titleX,88,o.title,52,{weight:"bold",anchor:"middle",fill:"#000"});
  g.append("rect").attr("x",o.left).attr("y",o.top).attr("width",o.right-o.left).attr("height",o.bottom-o.top).attr("fill","none").attr("stroke","#555").attr("stroke-width",2.5);
  const ax=g.append("g").attr("transform",`translate(0,${o.bottom})`).call(d3.axisBottom(x).tickValues(fcTicks).tickSize(11).tickPadding(9).tickFormat(d3.format("d")));
  const ay=g.append("g").attr("transform",`translate(${o.left},0)`).call(d3.axisLeft(y).tickValues(o.ticks).tickSize(11).tickPadding(6).tickFormat(d3.format("d")));
  styleAxis(ax,32,"#333");styleAxis(ay,32,"#333");
  const dots=(data,col)=>g.append("g").selectAll("circle").data(data).join("circle").attr("cx",d=>x(d[0])).attr("cy",d=>y(d[1])).attr("r",5.9).attr("fill",col);
  dots(o.nosig,"#ABABAB");dots(o.down,"#0091FB");dots(o.up,"#FF0000");
  [[x(-1),x(-1),o.top,o.bottom],[x(1),x(1),o.top,o.bottom],[o.left,o.right,y(1.3),y(1.3)]].forEach(c=>
    g.append("line").attr("x1",c[0]).attr("x2",c[1]).attr("y1",c[2]).attr("y2",c[3]).attr("stroke","#333").attr("stroke-width",2.6).attr("stroke-dasharray","7,6"));
  const cols=["#0091FB","#ABABAB","#FF0000"];
  o.legend.forEach((s,i)=>{
    g.append("ellipse").attr("cx",o.legX[i]).attr("cy",133).attr("rx",21).attr("ry",19).attr("fill",cols[i]).attr("stroke","#17375E").attr("stroke-width",2.5);
    txt(g,o.legX[i]+34,145,s,38.5,{weight:"bold",fill:"#111"});
  });
  txt(g,o.xlabX,1047,"Log2FC",36,{weight:"bold",anchor:"middle"});
  txt(g,o.ylabX,568.6,"−Log10(Pvalue)",36,{weight:"bold",anchor:"middle",rotate:-90});
}
const flat=rows=>rows.flatMap(r=>r[1].map(v=>[v,r[0]]));
volcano({title:"M vs N",titleX:1786,left:1374,right:2218.4,top:166,bottom:967,yMax:140,ticks:bTicksY,down:bDown,up:bUp,nosig:bNosig,legend:bLegend,legX:[1407.5,1710,2042.5],ylabX:1287,xlabX:1794.6});
volcano({title:"T vs M",titleX:2866.4,left:2451.9,right:3316.5,top:164,bottom:969,yMax:30,ticks:cTicksY,down:cDownSparse.concat(flat(cDownRows)),up:cUp,nosig:cNosigExtra.concat(flat(cNosigRows)),legend:cLegend,legX:[2481.4,2783.4,3116.2],ylabX:2377,xlabX:2882.5});

// ---------- D, E: networks ----------
function network(o){
  const g=svg.append("g");
  const nodes=[];
  o.rings.forEach(r=>{
    const n=r.names.length;
    const ang=d3.scaleLinear().domain([0,n]).range([r.start,r.start+360]);
    r.names.forEach((name,i)=>{
      const a=(r.angles?r.angles[i]:ang(i))*Math.PI/180;
      nodes.push({name,deg:r.deg[i],x:r.cx+r.R*Math.sin(a),y:r.cy-r.R*Math.cos(a)});
    });
  });
  const byName=new Map(nodes.map(n=>[n.name,n]));
  const seen=new Set(),links=[];
  o.edges.forEach(([s,ts])=>ts.split(" ").forEach(t=>{
    const a=byName.get(s),b=byName.get(t);
    if(!a||!b||a===b) return;
    const k=[s,t].sort().join("|");
    if(seen.has(k)) return;
    seen.add(k);links.push([a,b]);
  }));
  g.append("g").selectAll("line").data(links).join("line")
    .attr("x1",d=>d[0].x).attr("y1",d=>d[0].y).attr("x2",d=>d[1].x).attr("y2",d=>d[1].y)
    .attr("stroke","#979797").attr("stroke-width",2.2);
  const rad=d3.scaleLinear().domain([5,101]).range([30,78]);
  const col=d3.scaleLinear().domain(o.colDomain).range(["#FFD27F","#FFAB4F","#FF8B2E","#FF5A2B","#FA3529","#DC0026"]).clamp(true);
  g.append("g").selectAll("circle").data(nodes).join("circle")
    .attr("cx",d=>d.x).attr("cy",d=>d.y).attr("r",d=>rad(d.deg)).attr("fill",d=>col(d.deg));
  g.append("g").selectAll("text").data(nodes).join("text")
    .attr("x",d=>d.x).attr("y",d=>d.y+11).attr("text-anchor","middle")
    .attr("font-family",SANS).attr("font-size",o.font).attr("fill","#111").text(d=>d.name);
  txt(g,o.titleX,o.titleY,o.title,51,{weight:"bold",anchor:"middle",fill:"#000"});
}
network({title:"PPI network (M vs N)",titleX:822,titleY:1174,font:33.5,edges:dEdges,colDomain:[15,35,55,73,81,101],rings:[
  {names:dOuter,deg:dOuterDeg,cx:818,cy:1964.5,R:717,start:0},
  {names:dMiddle,deg:dMiddleDeg,cx:814.3,cy:1990.3,R:490.4,start:0},
  {names:dInner,deg:dInnerDeg,cx:817.5,cy:1989.2,R:289.4,start:0},
  {names:dCore,deg:dCoreDeg,cx:819.7,cy:1981.8,R:126.3,start:0}]});
network({title:"PPI network (T vs M)",titleX:2511.8,titleY:1168.5,font:31.5,edges:eEdges,colDomain:[11,29,41,57,71,87],rings:[
  {names:eOuter,deg:eOuterDeg,cx:2493.6,cy:1964.5,R:708.7,start:0},
  {names:eMiddle,deg:eMiddleDeg,cx:2500.6,cy:1973.4,R:490.4,start:-6.67},
  {names:eInner,deg:eInnerDeg,cx:2515,cy:1978.1,R:294.1,start:0},
  {names:eCore,deg:eCoreDeg,cx:2522.5,cy:1979,R:126,start:0,angles:eCoreAngles}]});
</script></body></html>
